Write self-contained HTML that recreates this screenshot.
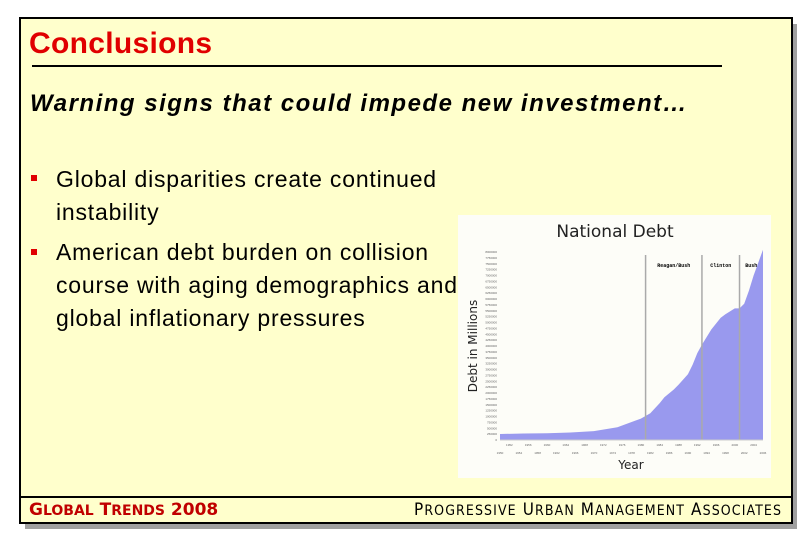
<!DOCTYPE html>
<html><head><meta charset="utf-8"><style>
body{margin:0;width:810px;height:540px;background:#fff;position:relative;overflow:hidden;font-family:"Liberation Sans",sans-serif}
.abs{position:absolute;white-space:nowrap}
.bl{font-size:23px;letter-spacing:0.8px;color:#000;left:56px}
.sq{position:absolute;left:31px;width:6px;height:6px;background:#e00000}
</style></head><body>
<div class="abs" style="left:25px;top:24px;width:772px;height:505px;background:#a0a0a0"></div>
<div class="abs" style="left:19px;top:17px;width:770px;height:503px;background:#ffffcc;border:2px solid #000"></div>
<div class="abs" style="left:29px;top:27px;font-size:30px;letter-spacing:0.3px;font-weight:bold;color:#e00000">Conclusions</div>
<div class="abs" style="left:32px;top:65px;width:690px;height:2px;background:#000"></div>
<div class="abs" style="left:30px;top:90px;font-size:24px;letter-spacing:1.5px;font-weight:bold;font-style:italic">Warning signs that could impede new investment…</div>
<div class="sq" style="top:175px"></div>
<div class="abs bl" style="top:163px;line-height:33px">Global disparities create continued<br>instability</div>
<div class="sq" style="top:249px"></div>
<div class="abs bl" style="top:236px;line-height:33px">American debt burden on collision<br>course with aging demographics and<br>global inflationary pressures</div>
<div class="abs" style="left:21px;top:496px;width:770px;height:2px;background:#000"></div>
<div class="abs" style="left:29px;top:500px;font-size:17px;font-weight:bold;color:#c00000;font-family:'DejaVu Sans',sans-serif">G<span style="font-size:14px">LOBAL</span> T<span style="font-size:14px">RENDS</span> 2008</div>
<div class="abs" style="left:414px;top:500px;font-size:17px;color:#000;font-family:'DejaVu Sans Condensed','DejaVu Sans',sans-serif;letter-spacing:1.1px">P<span style="font-size:14px">ROGRESSIVE</span> U<span style="font-size:14px">RBAN</span> M<span style="font-size:14px">ANAGEMENT</span> A<span style="font-size:14px">SSOCIATES</span></div>
<svg id="chart" style="position:absolute;left:458px;top:215px" width="313" height="263"></svg>
<script>
const years=[1950,1955,1960,1965,1970,1975,1980,1982,1984,1985,1987,1988,1990,1991,1992,1993,1995,1997,1998,2000,2001,2002,2003,2004,2006];
const debt=[257000,275000,290000,320000,380000,540000,910000,1140000,1570000,1820000,2150000,2350000,2800000,3200000,3700000,4050000,4700000,5200000,5350000,5600000,5600000,5800000,6350000,7000000,8100000];
const eras=[[1981,'Reagan/Bush'],[1993,'Clinton'],[2001,'Bush']];
const ymax=8000000;
const svg=document.getElementById('chart');const NS='http://www.w3.org/2000/svg';
const L=42,R=305,T=37,B=225;
const x=v=>L+(v-1950)/(2006-1950)*(R-L);
const y=v=>B-v/ymax*(B-T);
function mk(t,a,txt){const e=document.createElementNS(NS,t);for(const k in a)e.setAttribute(k,a[k]);if(txt!=null)e.textContent=txt;svg.appendChild(e);return e;}
let bg=mk('rect',{x:0,y:0,width:313,height:263,fill:'#fdfdf8'});


let t=mk('text',{x:157,y:22,'font-size':17,'text-anchor':'middle',fill:'#222','font-family':'DejaVu Sans,sans-serif'},'National Debt');


let d='M'+x(years[0])+','+B;years.forEach((yr,i)=>d+=' L'+x(yr).toFixed(1)+','+y(debt[i]).toFixed(1));d+=' L'+x(years[years.length-1])+','+B+'Z';
let area=mk('path',{d:d,fill:'#9999ee'});


eras.forEach((e,i)=>{let ln=mk('line',{x1:x(e[0]),x2:x(e[0]),y1:T+3,y2:B,stroke:'#aaa','stroke-width':1.5});


let nx=i<eras.length-1?eras[i+1][0]:2006;
let lb=mk('text',{x:(x(e[0])+x(nx))/2,y:T+15,'font-size':5,'font-weight':'bold','text-anchor':'middle','font-family':'Liberation Mono,monospace'},e[1]);

});
for(let v=0;v<=ymax;v+=250000){let tk=mk('text',{x:L-3,y:y(v)+1,'font-size':3,'text-anchor':'end',fill:'#666'},String(v));

}
for(let yr=1950;yr<=2006;yr+=2){let tk=mk('text',{x:x(yr),y:B+(yr%4==2?14:6),'font-size':3,'text-anchor':'middle',fill:'#666'},String(yr));

}
let ax=mk('line',{x1:L,x2:R,y1:B,y2:B,stroke:'#ccc'});


let yt=mk('text',{x:0,y:0,'font-size':12,'text-anchor':'middle',fill:'#222','font-family':'DejaVu Sans,sans-serif',transform:'translate(19,131) rotate(-90)'},'Debt in Millions');


let xt=mk('text',{x:173,y:254,'font-size':12,'text-anchor':'middle',fill:'#222','font-family':'DejaVu Sans,sans-serif'},'Year');


</script>
</body></html>
